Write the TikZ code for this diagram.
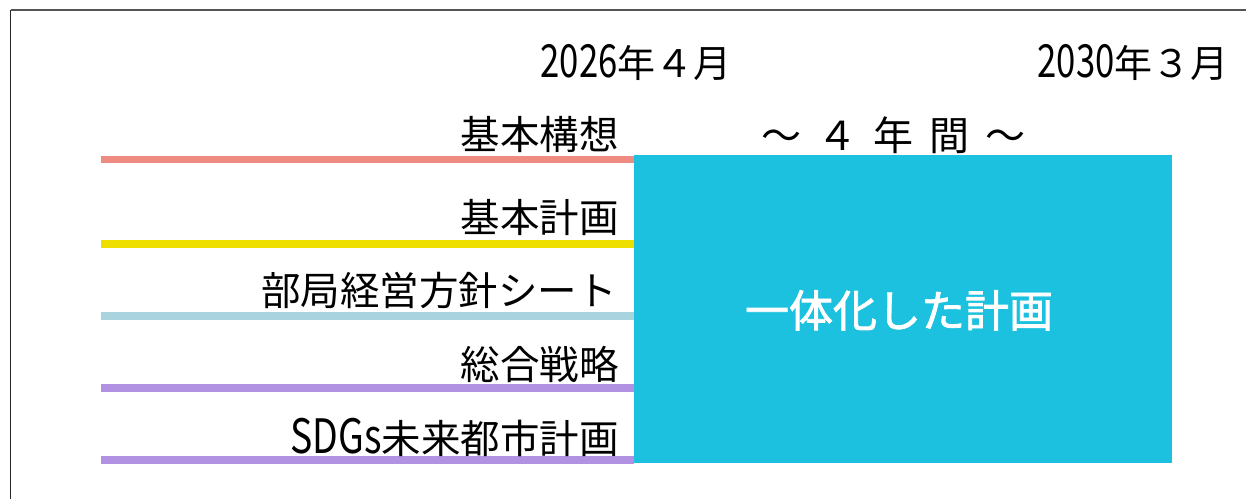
\documentclass[tikz,border=0pt]{standalone}
\usepackage{fontspec}
\setmainfont{Noto Sans CJK JP}
\newfontfamily\lat[FakeStretch=0.79,Scale=1.2]{Noto Sans CJK JP}
\newfontfamily\latd[FakeStretch=0.76,Scale=1.2]{Noto Sans CJK JP}
\newfontfamily\whitefont[FakeBold=1.8]{Noto Sans CJK JP}
\definecolor{cPink}{HTML}{EE8B82}
\definecolor{cYellow}{HTML}{EEDF00}
\definecolor{cLBlue}{HTML}{A9D3DF}
\definecolor{cPurple}{HTML}{B192E2}
\definecolor{cBox}{HTML}{1BC1DE}
\definecolor{cFrame}{HTML}{555555}
\begin{document}
\begin{tikzpicture}[x=1pt,y=-1pt,
  lbl/.style={inner sep=0pt, anchor=base east, font=\fontsize{39.5}{41}\selectfont, text=black},
  datelbl/.style={inner sep=0pt, anchor=base, font=\fontsize{38}{40}\selectfont, text=black},
  bar/.style={line width=7.5pt}]
\useasboundingbox (0,0) rectangle (1246,499);
\fill[white] (0,0) rectangle (1246,499);
% frame (cut off at right and bottom)
\draw[cFrame, line width=2pt] (10.5,9.5) -- (1246,9.5);
\draw[black!85, line width=1.5pt] (10.5,9.5) -- (10.5,499);
% box
\node[fill=cBox, draw=none, inner sep=0pt, minimum width=538pt, minimum height=308pt, anchor=north west] (box) at (634,155) {};
\node[inner sep=0pt, anchor=base, text=white, font=\fontsize{44}{46}\selectfont\whitefont] (main) at (899,327) {一体化した計画};
% dates
\node[datelbl] (d1) at (636,77) {{\latd 2026}年４月};
\node[datelbl] (d2) at (1133,77) {{\latd 2030}年３月};
\node[inner sep=0pt, anchor=base, font=\fontsize{40}{42}\selectfont] (span) at (893,150) {～\hspace{16pt}４\hspace{16pt}年\hspace{16pt}間\hspace{16pt}～};
% bars
\coordinate (s1) at (101,159.3);
\coordinate (s2) at (101,244);
\coordinate (s3) at (101,316);
\coordinate (s4) at (101,388);
\coordinate (s5) at (101,460);
\draw[bar, cPink] (s1) -- (s1 -| box.west);
\draw[bar, cYellow] (s2) -- (s2 -| box.west);
\draw[bar, cLBlue] (s3) -- (s3 -| box.west);
\draw[bar, cPurple] (s4) -- (s4 -| box.west);
\draw[bar, cPurple] (s5) -- (s5 -| box.west);
% labels
\node[lbl] (l1) at (619,149) {基本構想};
\node[lbl] (l2) at (619,232) {基本計画};
\node[lbl] (l3) at (617,305) {部局経営方針シート};
\node[lbl] (l4) at (619,379) {総合戦略};
\node[lbl] (l5) at (619,453) {{\lat SDGs}未来都市計画};
\end{tikzpicture}
\end{document}
